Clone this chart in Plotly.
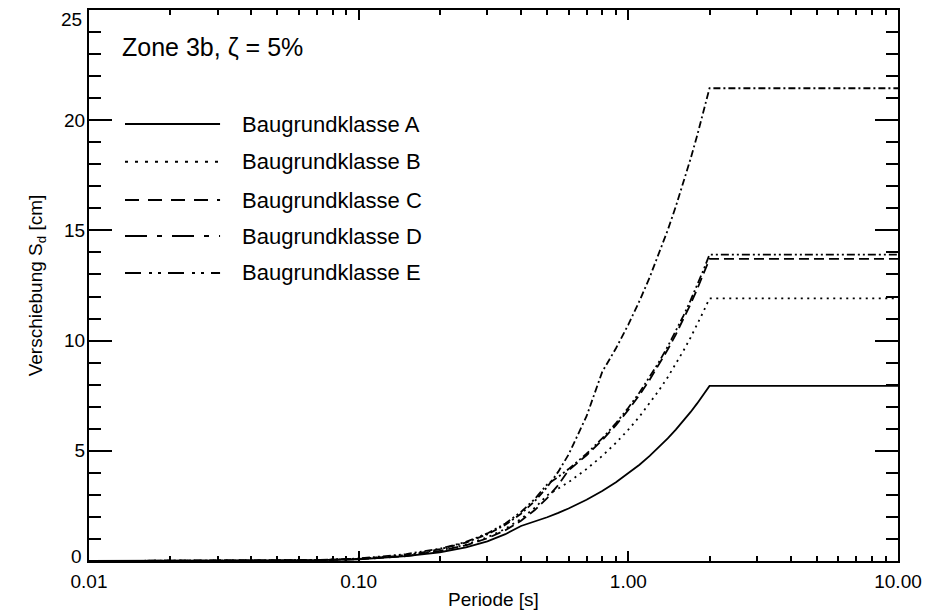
import plotly.graph_objects as go

# ---- data ----
periods = [0.01, 0.02, 0.03, 0.05, 0.07, 0.10, 0.15, 0.20, 0.25, 0.30, 0.35,
           0.40, 0.45, 0.50, 0.55, 0.60, 0.70, 0.80, 0.90, 1.00, 1.10, 1.20,
           1.30, 1.40, 1.50, 1.60, 1.70, 1.80, 1.90, 2.00, 10.0]

sd_a = [0.0004, 0.0019, 0.0047, 0.0149, 0.0331, 0.0794, 0.223, 0.397, 0.621, 0.894, 1.216,
        1.589, 1.787, 1.986, 2.185, 2.383, 2.780, 3.178, 3.575, 3.972, 4.369, 4.766,
        5.164, 5.561, 5.958, 6.355, 6.752, 7.150, 7.547, 7.944, 7.944]
sd_b = [0.0005, 0.0023, 0.0056, 0.0179, 0.0397, 0.0953, 0.268, 0.477, 0.745, 1.072, 1.460,
        1.907, 2.413, 2.979, 3.277, 3.575, 4.171, 4.766, 5.362, 5.958, 6.554, 7.150,
        7.745, 8.341, 8.937, 9.533, 10.129, 10.724, 11.320, 11.916, 11.916]
sd_c = [0.0005, 0.0021, 0.0050, 0.0157, 0.0341, 0.0799, 0.218, 0.457, 0.714, 1.028, 1.399,
        1.827, 2.312, 2.855, 3.454, 4.111, 4.796, 5.482, 6.167, 6.852, 7.537, 8.222,
        8.908, 9.593, 10.278, 10.963, 11.648, 12.334, 13.019, 13.704, 13.704]
sd_d = [0.0006, 0.0025, 0.0059, 0.0184, 0.0401, 0.0938, 0.256, 0.536, 0.838, 1.207, 1.642,
        2.145, 2.715, 3.352, 4.055, 4.826, 6.569, 8.580, 9.652, 10.725, 11.797, 12.870,
        13.942, 15.015, 16.087, 17.160, 18.232, 19.305, 20.377, 21.450, 21.450]
sd_e = [0.0006, 0.0027, 0.0065, 0.0209, 0.0463, 0.111, 0.313, 0.556, 0.869, 1.251, 1.703,
        2.224, 2.815, 3.476, 3.823, 4.171, 4.866, 5.561, 6.256, 6.951, 7.646, 8.341,
        9.036, 9.731, 10.427, 11.122, 11.817, 12.512, 13.207, 13.902, 13.902]

series_names = ["Baugrundklasse A", "Baugrundklasse B", "Baugrundklasse C",
                "Baugrundklasse D", "Baugrundklasse E"]
series_values = [sd_a, sd_b, sd_c, sd_d, sd_e]

x_tick_values = [0.01, 0.1, 1, 10]
x_tick_labels = ["0.01", "0.10", "1.00", "10.00"]
x_minor_values = [m * d for d in (0.01, 0.1, 1) for m in range(2, 10)]
y_tick_values = [0, 5, 10, 15, 20, 25]
y_tick_labels = ["0", "5", "10", "15", "20", "25"]

title_text = "Zone 3b, \u03b6 = 5%"
x_title = "Periode [s]"
y_title = "Verschiebung S<sub>d</sub> [cm]"

# ---- styles ----
FONT = "Liberation Sans, Arial, Helvetica, sans-serif"
TICKFONT = 19
curve_dash = ["solid", "2px,4.5px", "10px,5px", "7px,3px,2px,3px",
              "8px,3px,2px,3px,2px,3px"]
legend_dash = ["solid", "3px,7px", "14px,9px", "22px,10px,5px,10px",
               "16px,8px,3px,6px,3px,7px"]
legend_y = [0.793, 0.7247, 0.655, 0.5898, 0.5227]
# end labels of the y axis are nudged inside the frame, as in the reference
edge_label_shift = {0: 5, 25: -9}

fig = go.Figure()
for name, vals, dash in zip(series_names, series_values, curve_dash):
    fig.add_trace(go.Scatter(x=periods, y=vals, mode="lines", name=name,
                             showlegend=False,
                             line=dict(color="black", width=1.8, dash=dash)))

shapes = []
annotations = []
for name, dash, ly in zip(series_names, legend_dash, legend_y):
    shapes.append(dict(type="line", xref="paper", yref="paper",
                       x0=0.0445, x1=0.162, y0=ly, y1=ly,
                       line=dict(color="black", width=2, dash=dash)))
    annotations.append(dict(text=name, xref="paper", yref="paper",
                            x=0.1865, y=ly, xanchor="left", yanchor="middle",
                            showarrow=False,
                            font=dict(family=FONT, size=22, color="black")))
annotations.append(dict(text=title_text, xref="paper", yref="paper",
                        x=0.038, y=0.933, xanchor="left", yanchor="middle",
                        showarrow=False,
                        font=dict(family=FONT, size=25, color="black")))

axis_y_vals = []
axis_y_labels = []
for val, lab in zip(y_tick_values, y_tick_labels):
    if val in edge_label_shift:
        annotations.append(dict(text=lab, xref="paper", yref="y", x=0, y=val,
                                xanchor="right", yanchor="middle",
                                xshift=-5, yshift=edge_label_shift[val],
                                showarrow=False,
                                font=dict(family=FONT, size=TICKFONT, color="black")))
    else:
        axis_y_vals.append(val)
        axis_y_labels.append(lab)

fig.update_layout(
    width=946, height=614,
    margin=dict(l=89, r=48, t=10, b=53, autoexpand=False),
    paper_bgcolor="white", plot_bgcolor="white",
    font=dict(family=FONT, size=TICKFONT, color="black"),
    shapes=shapes, annotations=annotations,
    showlegend=False,
)
fig.update_xaxes(
    type="log", range=[-2, 1],
    tickmode="array", tickvals=x_tick_values, ticktext=x_tick_labels,
    ticks="inside", ticklen=10, tickwidth=2, tickcolor="black",
    minor=dict(tickmode="array", tickvals=x_minor_values, ticks="inside",
               ticklen=5, tickwidth=2, tickcolor="black", showgrid=False),
    showline=True, linecolor="black", linewidth=2, mirror="ticks",
    showgrid=False, zeroline=False, ticklabeloverflow="allow",
    ticklabelstandoff=2,
    tickfont=dict(size=TICKFONT),
    title=dict(text=x_title, font=dict(size=TICKFONT), standoff=2),
)
fig.update_yaxes(
    range=[0, 25],
    tickmode="array", tickvals=axis_y_vals, ticktext=axis_y_labels,
    ticks="inside", ticklen=23, tickwidth=2, tickcolor="black",
    minor=dict(dtick=1, ticks="inside", ticklen=12, tickwidth=2,
               tickcolor="black", showgrid=False),
    showline=True, linecolor="black", linewidth=2, mirror="ticks",
    showgrid=False, zeroline=False, ticklabeloverflow="allow",
    ticklabelstandoff=-2,
    tickfont=dict(size=TICKFONT),
    title=dict(text=y_title, font=dict(size=TICKFONT), standoff=16),
)

fig.write_html("out.html")
